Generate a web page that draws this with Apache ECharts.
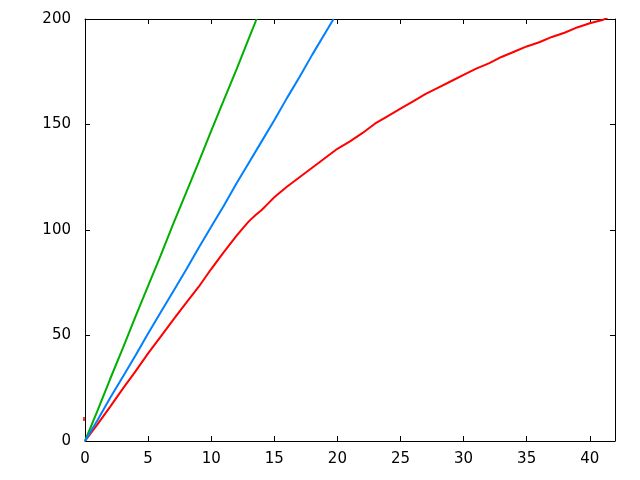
<!DOCTYPE html>
<html>
<head>
<meta charset="utf-8">
<script src="https://cdn.jsdelivr.net/npm/echarts@6/dist/echarts.min.js"></script>
<style>html,body{margin:0;padding:0;background:#fff;}#c{width:640px;height:480px;}</style>
</head>
<body>
<div id="c"></div>
<script>
var greenX = [0, 1, 2, 3, 4, 5, 6, 7, 8, 9, 10, 11, 12, 13, 13.6];
var greenY = [0, 14.5, 29.5, 44, 59, 73.5, 88, 103, 117.5, 132, 147, 161.5, 176, 191, 200];

var blueX = [0, 1, 2, 3, 4, 5, 6, 7, 8, 9, 10, 11, 12, 13, 14, 15, 16, 17, 18, 19, 19.7];
var blueY = [0, 10, 20.5, 30.5, 40.5, 51, 61, 71, 81, 91.5, 101.5, 111.5, 122, 132, 142, 152, 162.5, 172.5, 183, 193, 200];

var redX = [0, 1, 2, 3, 4, 5, 6, 7, 8, 9, 10, 11, 12, 12.5, 13, 13.5, 14, 14.5, 15, 15.5, 16, 17, 18, 19, 20, 21, 22, 23, 24, 25, 26, 27, 28, 29, 30, 31, 32, 33, 34, 35, 36, 37, 38, 39, 40, 41, 41.4];
var redY = [0, 8, 16.3, 24.8, 33, 41.5, 49.5, 57.5, 65.3, 73, 81.5, 89.5, 97.2, 100.8, 104.2, 107, 109.5, 112.5, 115.5, 118, 120.5, 125, 129.5, 134, 138.5, 142, 146, 150.5, 154, 157.5, 161, 164.5, 167.5, 170.5, 173.5, 176.5, 179, 182, 184.5, 187, 189, 191.5, 193.5, 196, 198, 199.5, 200.5];

var redMarkX = [0];
var redMarkY = [10.4];

var xMin = 0, xMax = 42, xStep = 5;
var yMin = 0, yMax = 200, yStep = 50;

function pairs(xs, ys) { return xs.map(function (x, i) { return [x, ys[i]]; }); }

var chart = echarts.init(document.getElementById('c'), null, {renderer: 'canvas'});
var labelStyle = {color: '#000', fontFamily: 'DejaVu Sans', fontSize: 15};
var lineStyle = {color: '#000', width: 1};
function axisLine() { return {show: true, onZero: false, lineStyle: lineStyle}; }
function axisTick() { return {show: true, inside: true, length: 5, lineStyle: lineStyle}; }
chart.setOption({
  animation: false,
  backgroundColor: '#fff',
  grid: {left: 85, right: 25, top: 19, bottom: 39, containLabel: false},
  xAxis: [
    {type: 'value', min: xMin, max: xMax, interval: xStep, position: 'bottom',
     axisLine: axisLine(), axisTick: axisTick(),
     axisLabel: Object.assign({margin: 11, showMaxLabel: false}, labelStyle),
     splitLine: {show: false}},
    {type: 'value', min: xMin, max: xMax, interval: xStep, position: 'top',
     axisLine: axisLine(), axisTick: axisTick(),
     axisLabel: {show: false}, splitLine: {show: false}}
  ],
  yAxis: [
    {type: 'value', min: yMin, max: yMax, interval: yStep, position: 'left',
     axisLine: axisLine(), axisTick: axisTick(),
     axisLabel: Object.assign({margin: 14}, labelStyle),
     splitLine: {show: false}},
    {type: 'value', min: yMin, max: yMax, interval: yStep, position: 'right',
     axisLine: axisLine(), axisTick: axisTick(),
     axisLabel: {show: false}, splitLine: {show: false}}
  ],
  series: [
    {type: 'line', data: pairs(redX, redY), showSymbol: false, symbol: 'none',
     lineStyle: {color: '#ff0000', width: 2}, z: 2},
    {type: 'line', data: pairs(greenX, greenY), showSymbol: false, symbol: 'none',
     lineStyle: {color: '#00b000', width: 2}, z: 3},
    {type: 'line', data: pairs(blueX, blueY), showSymbol: false, symbol: 'none',
     lineStyle: {color: '#0080ff', width: 2}, z: 3},
    {type: 'scatter', data: pairs(redMarkX, redMarkY), symbol: 'rect', symbolSize: [2, 4],
     symbolOffset: [-1, 0], itemStyle: {color: '#ff0000'}, clip: false, z: 5}
  ]
});
</script>
</body>
</html>
